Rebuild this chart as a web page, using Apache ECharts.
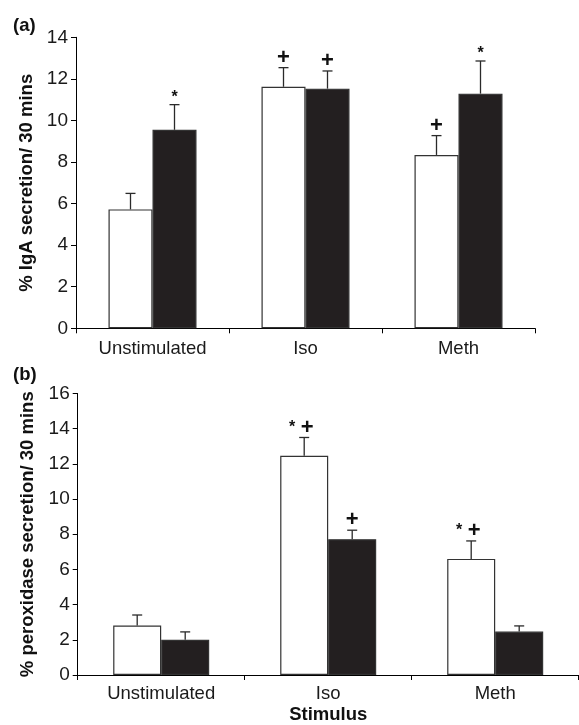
<!DOCTYPE html>
<html>
<head>
<meta charset="utf-8">
<script src="https://cdn.jsdelivr.net/npm/echarts@6/dist/echarts.min.js"></script>
<style>
  html, body { margin: 0; padding: 0; background: #fff; }
  #chart { width: 579px; height: 725px; }
</style>
</head>
<body>
<div id="chart"></div>
<script>
// categories on the x axis (shared by both panels)
var categories = ['Unstimulated', 'Iso', 'Meth'];

// (a) IgA secretion, mean and SE, white and black bars
var igaWhite = [5.72, 11.62, 8.34];
var igaWhiteErr = [0.77, 0.92, 0.93];
var igaBlack = [9.55, 11.53, 11.29];
var igaBlackErr = [1.21, 0.85, 1.57];
var igaWhiteMarks = ['', '+', '+'];
var igaBlackMarks = ['*', '+', '*'];

// (b) peroxidase secretion
var peroxWhite = [2.81, 12.46, 6.60];
var peroxWhiteErr = [0.60, 1.04, 1.02];
var peroxBlack = [2.00, 7.72, 2.47];
var peroxBlackErr = [0.45, 0.51, 0.32];
var peroxWhiteMarks = ['', '* +', '* +'];
var peroxBlackMarks = ['', '+', ''];

var igaTicks = [0, 14, 2];   // min, max, interval
var peroxTicks = [0, 16, 2];

var FONT = "'Liberation Sans', Arial, sans-serif";
var INK = '#1a1a1a';

function errData(means, errs) {
  return means.map(function (m, i) { return [i, m, m + errs[i]]; });
}

// '*' small, '+' large and heavy, as in the print
function markText(mark) {
  return mark.split('').map(function (c) {
    if (c === '*') return '{s|*}';
    if (c === '+') return '{p|+}';
    return '{g| }';
  }).join('');
}

// draws the upward error bar, its cap and the significance mark
function errRenderer(barW, side, marks) {
  return function (params, api) {
    var idx = api.value(0);
    var base = api.coord([idx, api.value(1)]);
    var top = api.coord([idx, api.value(2)]);
    var x = base[0] + side * barW / 2;
    var capHalf = 5;
    var children = [
      { type: 'line', shape: { x1: x, y1: base[1], x2: x, y2: top[1] },
        style: { stroke: '#2a2a2a', lineWidth: 1.3 } },
      { type: 'line', shape: { x1: x - capHalf, y1: top[1], x2: x + capHalf, y2: top[1] },
        style: { stroke: '#2a2a2a', lineWidth: 1.3 } }
    ];
    var mark = marks[params.dataIndex];
    if (mark) {
      children.push({
        type: 'text',
        x: x + (mark.length > 1 ? -3 : 0),
        y: top[1] + 1,
        style: {
          text: markText(mark), fill: '#111',
          textAlign: 'center', textVerticalAlign: 'bottom',
          rich: {
            s: { font: 'bold 16px ' + FONT, fill: '#111' },
            p: { font: 'bold 22px ' + FONT, fill: '#111' },
            g: { font: 'bold 20px ' + FONT }
          }
        }
      });
    }
    return { type: 'group', children: children };
  };
}

function xAxisCfg(gridIndex, extra) {
  var cfg = {
    type: 'category', gridIndex: gridIndex, data: categories,
    axisLine: { lineStyle: { color: '#000', width: 1 } },
    axisTick: { show: true, length: 5, lineStyle: { color: '#000' } },
    axisLabel: { color: INK, fontSize: 18.5, fontFamily: FONT, margin: 11 },
    splitLine: { show: false }
  };
  for (var k in extra) cfg[k] = extra[k];
  return cfg;
}

function yAxisCfg(gridIndex, ticks, name, gap) {
  return {
    type: 'value', gridIndex: gridIndex,
    min: ticks[0], max: ticks[1], interval: ticks[2],
    name: name, nameLocation: 'middle', nameGap: gap, nameRotate: 90,
    nameTextStyle: { color: '#111', fontSize: 18.5, fontWeight: 'bold', fontFamily: FONT },
    axisLine: { show: true, lineStyle: { color: '#000', width: 1 } },
    axisTick: { show: true, length: 5, lineStyle: { color: '#000' } },
    axisLabel: { color: INK, fontSize: 19, fontFamily: FONT, margin: 8 },
    splitLine: { show: false }
  };
}

function barSeries(gridIndex, values, fill, barW) {
  return {
    type: 'bar', xAxisIndex: gridIndex, yAxisIndex: gridIndex,
    data: values, barWidth: barW, barGap: '0%',
    itemStyle: { color: fill, borderColor: '#333', borderWidth: 1.2 },
    emphasis: { disabled: true }, animation: false
  };
}

function errSeries(gridIndex, means, errs, barW, side, marks) {
  return {
    type: 'custom', xAxisIndex: gridIndex, yAxisIndex: gridIndex,
    data: errData(means, errs), renderItem: errRenderer(barW, side, marks),
    z: 5, animation: false, silent: true
  };
}

var chart = echarts.init(document.getElementById('chart'));
chart.setOption({
  animation: false,
  backgroundColor: '#fff',
  textStyle: { fontFamily: FONT },
  grid: [
    { left: 76, top: 37.3, width: 459, height: 291 },
    { left: 77.7, top: 393.5, width: 501, height: 282.8 }
  ],
  xAxis: [
    xAxisCfg(0, {}),
    xAxisCfg(1, {
      name: 'Stimulus', nameLocation: 'middle', nameGap: 30,
      nameTextStyle: { color: '#111', fontSize: 18.5, fontWeight: 'bold', fontFamily: FONT },
      axisLabel: { color: INK, fontSize: 18.5, fontFamily: FONT, margin: 9 }
    })
  ],
  yAxis: [
    yAxisCfg(0, igaTicks, '% IgA secretion/ 30 mins', 29),
    yAxisCfg(1, peroxTicks, '% peroxidase secretion/ 30 mins', 37)
  ],
  graphic: [
    { type: 'text', left: 13, top: 16, style: { text: '(a)', font: 'bold 18.5px ' + FONT, fill: '#111' } },
    { type: 'text', left: 13, top: 365, style: { text: '(b)', font: 'bold 18.5px ' + FONT, fill: '#111' } }
  ],
  series: [
    barSeries(0, igaWhite, '#ffffff', 44),
    barSeries(0, igaBlack, '#231f20', 44),
    errSeries(0, igaWhite, igaWhiteErr, 44, -1, igaWhiteMarks),
    errSeries(0, igaBlack, igaBlackErr, 44, 1, igaBlackMarks),
    barSeries(1, peroxWhite, '#ffffff', 48),
    barSeries(1, peroxBlack, '#231f20', 48),
    errSeries(1, peroxWhite, peroxWhiteErr, 48, -1, peroxWhiteMarks),
    errSeries(1, peroxBlack, peroxBlackErr, 48, 1, peroxBlackMarks)
  ]
});
</script>
</body>
</html>
